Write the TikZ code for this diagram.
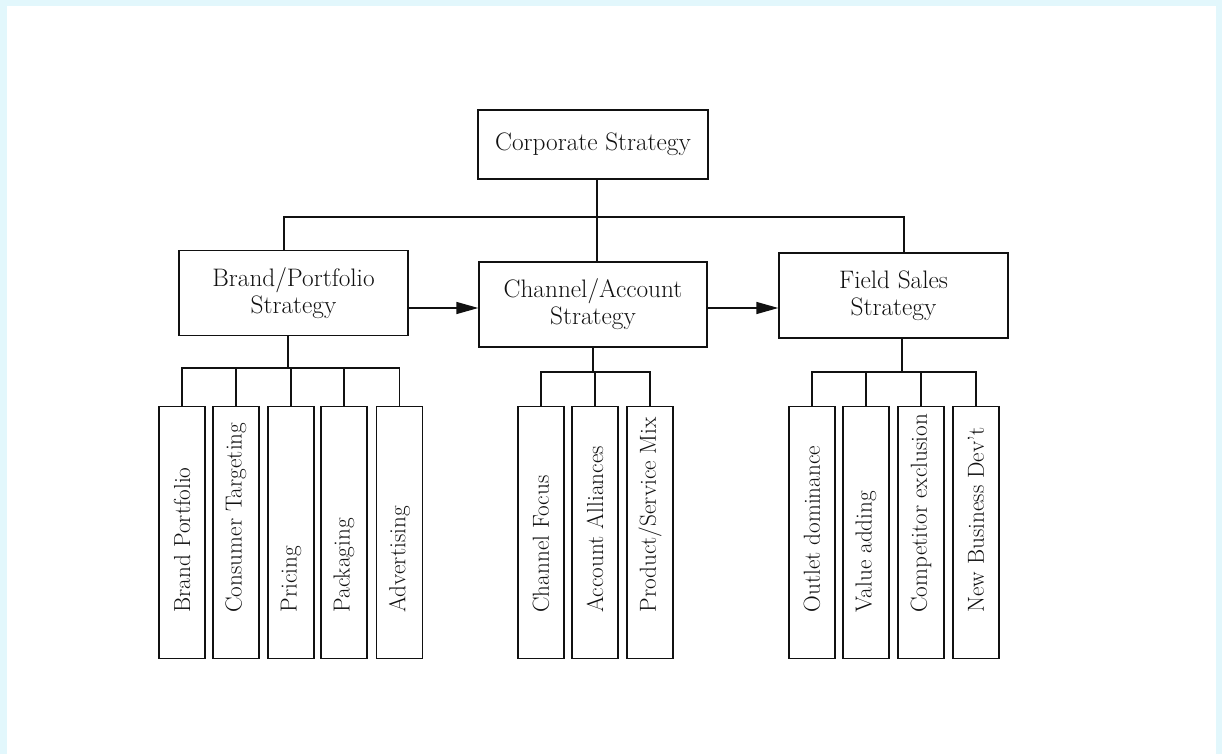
\documentclass[tikz,border=0pt]{standalone}
\usepackage{fontspec}
\usepackage{xcolor}
\usepackage{tikz}
\usetikzlibrary{arrows.meta, positioning}
\definecolor{frameblue}{HTML}{E2F7FC}
\definecolor{inkblack}{HTML}{111111}
\newcommand{\leaflabel}[1]{\makebox[160pt][l]{#1}}

\begin{document}
\begin{tikzpicture}[
    x=1pt, y=-1pt,
    box/.style={rectangle, draw=inkblack, fill=white, line width=1.4pt, minimum width=229pt, minimum height=85pt, inner sep=0pt, align=center, text=inkblack, font=\fontsize{25.3}{27}\selectfont},
    leaf/.style={rectangle, draw=inkblack, fill=white, line width=1.4pt, rotate=90, minimum width=252pt, minimum height=46pt, inner sep=0pt, text=inkblack, font=\fontsize{23.2}{26}\selectfont},
    conn/.style={line width=1.4pt, draw=inkblack},
    arrow/.style={-{Triangle[length=22pt, width=12pt]}, line width=1.4pt, draw=inkblack}
]

% Frame
\useasboundingbox (0,0) rectangle (1222,754);
\fill[frameblue] (0,0) rectangle (1222,754);
\fill[white] (7,6) rectangle (1216,754);

% Top level
\node[box, minimum width=230pt, minimum height=69pt] (corp) at (593,144.5) {Corporate Strategy};

% Second level
\node[box] (brand) at (293.5,293) {Brand/Portfolio\\Strategy};
\node[box, minimum width=228pt] (chan) at (593,304.5) {Channel/Account\\Strategy};
\node[box] (field) at (893.5,295.5) {Field Sales\\Strategy};

\coordinate (topbar) at (597,217);
\draw[conn] ([xshift=4pt]corp.south) -- ([xshift=4pt]chan.north);
\draw[conn] ([xshift=-9.5pt]brand.north) |- (topbar) -| ([xshift=10.5pt]field.north);

\draw[arrow] ([yshift=-15pt]brand.east) -- ([yshift=-15pt]brand.east -| chan.west);
\draw[arrow] ([yshift=-3.5pt]chan.east) -- ([yshift=-3.5pt]chan.east -| field.west);

% Brand/Portfolio leaves
\node[leaf] (b1) at (182,532.5) {\leaflabel{Brand Portfolio}};
\node[leaf] (b2) at (236,532.5) {\leaflabel{Consumer Targeting}};
\node[leaf] (b3) at (291,532.5) {\leaflabel{Pricing}};
\node[leaf] (b4) at (344,532.5) {\leaflabel{Packaging}};
\node[leaf] (b5) at (399.5,532.5) {\leaflabel{Advertising}};

\coordinate (brandbar) at (288,368);
\draw[conn] ([xshift=-5.5pt]brand.south) -- (brandbar);
\draw[conn] (b1.east) |- (brandbar) -| (b5.east);
\draw[conn] (b2.east) -- (b2.east |- brandbar);
\draw[conn] (b3.east) -- (b3.east |- brandbar);
\draw[conn] (b4.east) -- (b4.east |- brandbar);

% Channel/Account leaves
\node[leaf] (c1) at (541,532.5) {\leaflabel{Channel Focus}};
\node[leaf] (c2) at (595,532.5) {\leaflabel{Account Alliances}};
\node[leaf] (c3) at (650,532.5) {\leaflabel{Product/Service Mix}};

\coordinate (chanbar) at (593,372);
\draw[conn] (chan.south) -- (chanbar);
\draw[conn] (c1.east) |- (chanbar) -| (c3.east);
\draw[conn] (c2.east) -- (c2.east |- chanbar);

% Field Sales leaves
\node[leaf] (f1) at (812,532.5) {\leaflabel{Outlet dominance}};
\node[leaf] (f2) at (866,532.5) {\leaflabel{Value adding}};
\node[leaf] (f3) at (921,532.5) {\leaflabel{Competitor exclusion}};
\node[leaf] (f4) at (976,532.5) {\leaflabel{New Business Dev't}};

\coordinate (fieldbar) at (902,372);
\draw[conn] ([xshift=8.5pt]field.south) -- (fieldbar);
\draw[conn] (f1.east) |- (fieldbar) -| (f4.east);
\draw[conn] (f2.east) -- (f2.east |- fieldbar);
\draw[conn] (f3.east) -- (f3.east |- fieldbar);

\end{tikzpicture}
\end{document}
